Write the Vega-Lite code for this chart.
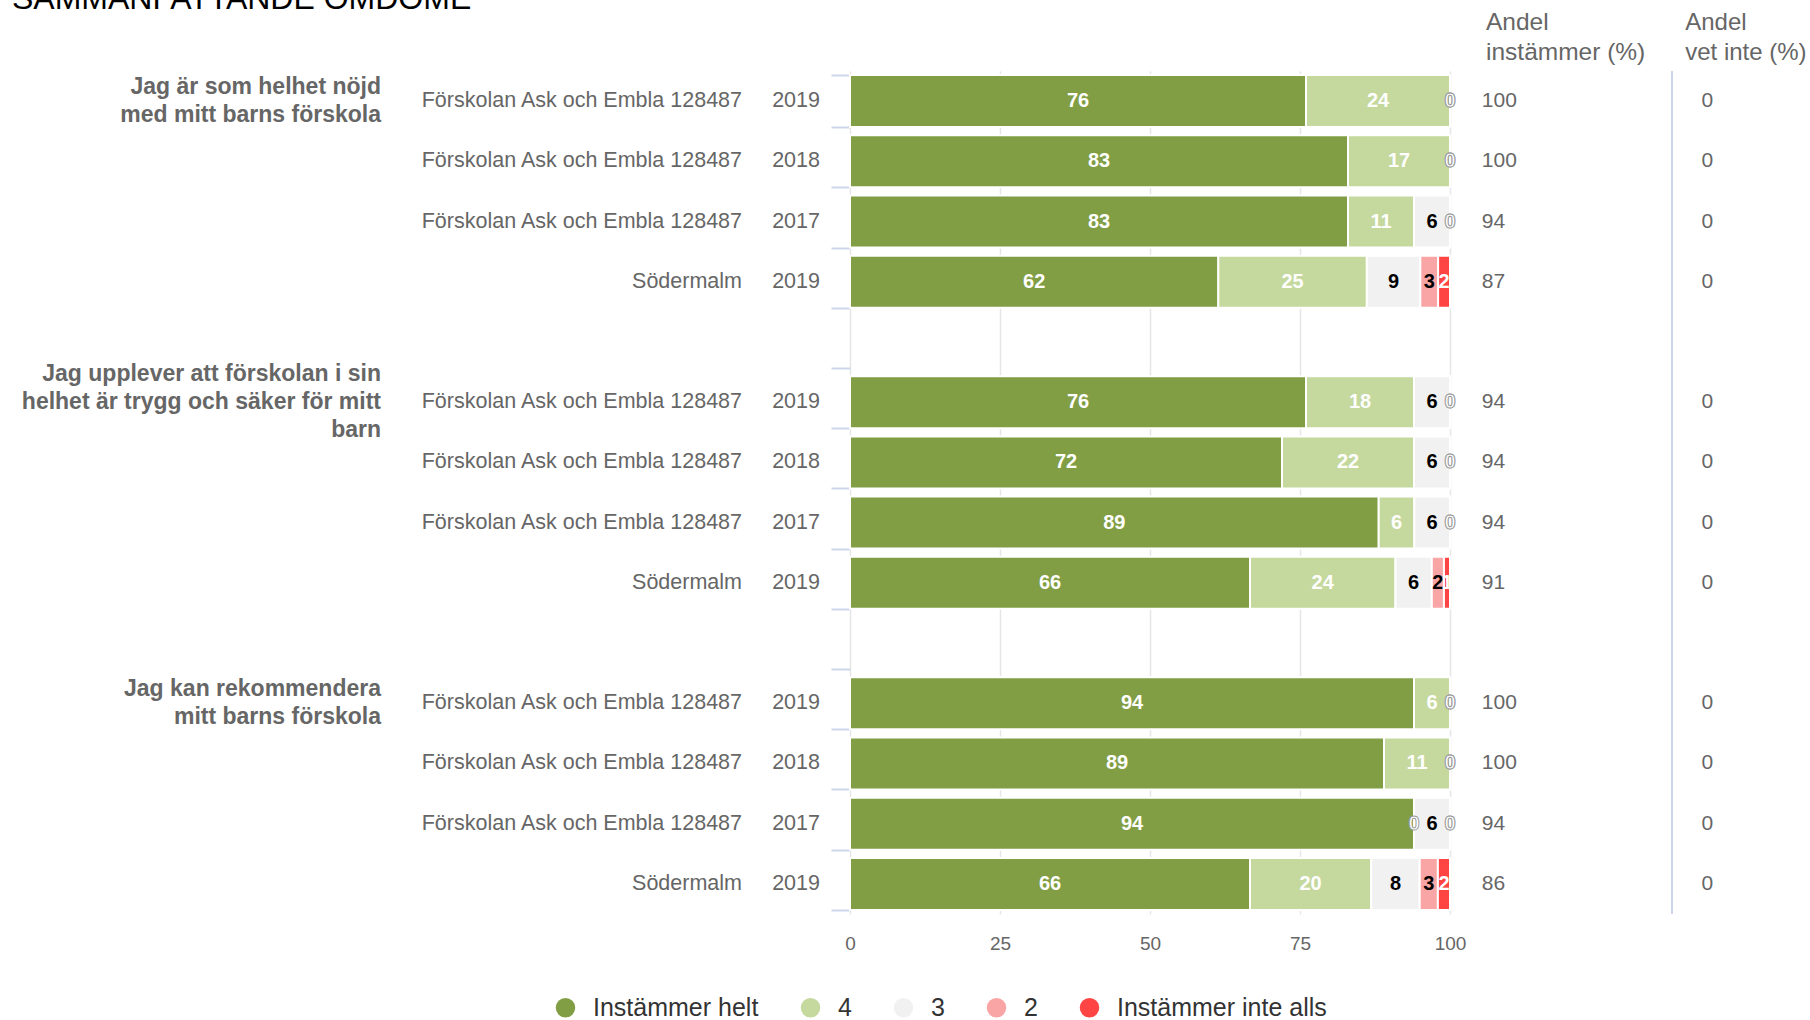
{
 "$schema": "https://vega.github.io/schema/vega-lite/v6.json",
 "width": 600,
 "height": 843,
 "autosize": {"type": "none"},
 "padding": {"left": 850, "top": 71, "right": 360, "bottom": 106},
 "background": "white",
 "config": {"font": "Liberation Sans", "view": {"stroke": null}},
 "datasets": {
  "bars": [
   {"rad": "r1", "kat": "Instämmer helt", "ord": 1, "val": 76}, {"rad": "r1", "kat": "4", "ord": 2, "val": 24}, {"rad": "r1", "kat": "3", "ord": 3, "val": 0}, {"rad": "r1", "kat": "2", "ord": 4, "val": 0}, {"rad": "r1", "kat": "Instämmer inte alls", "ord": 5, "val": 0},
   {"rad": "r2", "kat": "Instämmer helt", "ord": 1, "val": 83}, {"rad": "r2", "kat": "4", "ord": 2, "val": 17}, {"rad": "r2", "kat": "3", "ord": 3, "val": 0}, {"rad": "r2", "kat": "2", "ord": 4, "val": 0}, {"rad": "r2", "kat": "Instämmer inte alls", "ord": 5, "val": 0},
   {"rad": "r3", "kat": "Instämmer helt", "ord": 1, "val": 83}, {"rad": "r3", "kat": "4", "ord": 2, "val": 11}, {"rad": "r3", "kat": "3", "ord": 3, "val": 6}, {"rad": "r3", "kat": "2", "ord": 4, "val": 0}, {"rad": "r3", "kat": "Instämmer inte alls", "ord": 5, "val": 0},
   {"rad": "r4", "kat": "Instämmer helt", "ord": 1, "val": 62}, {"rad": "r4", "kat": "4", "ord": 2, "val": 25}, {"rad": "r4", "kat": "3", "ord": 3, "val": 9}, {"rad": "r4", "kat": "2", "ord": 4, "val": 3}, {"rad": "r4", "kat": "Instämmer inte alls", "ord": 5, "val": 2},
   {"rad": "r5", "kat": "Instämmer helt", "ord": 1, "val": 76}, {"rad": "r5", "kat": "4", "ord": 2, "val": 18}, {"rad": "r5", "kat": "3", "ord": 3, "val": 6}, {"rad": "r5", "kat": "2", "ord": 4, "val": 0}, {"rad": "r5", "kat": "Instämmer inte alls", "ord": 5, "val": 0},
   {"rad": "r6", "kat": "Instämmer helt", "ord": 1, "val": 72}, {"rad": "r6", "kat": "4", "ord": 2, "val": 22}, {"rad": "r6", "kat": "3", "ord": 3, "val": 6}, {"rad": "r6", "kat": "2", "ord": 4, "val": 0}, {"rad": "r6", "kat": "Instämmer inte alls", "ord": 5, "val": 0},
   {"rad": "r7", "kat": "Instämmer helt", "ord": 1, "val": 89}, {"rad": "r7", "kat": "4", "ord": 2, "val": 6}, {"rad": "r7", "kat": "3", "ord": 3, "val": 6}, {"rad": "r7", "kat": "2", "ord": 4, "val": 0}, {"rad": "r7", "kat": "Instämmer inte alls", "ord": 5, "val": 0},
   {"rad": "r8", "kat": "Instämmer helt", "ord": 1, "val": 66}, {"rad": "r8", "kat": "4", "ord": 2, "val": 24}, {"rad": "r8", "kat": "3", "ord": 3, "val": 6}, {"rad": "r8", "kat": "2", "ord": 4, "val": 2}, {"rad": "r8", "kat": "Instämmer inte alls", "ord": 5, "val": 1},
   {"rad": "r9", "kat": "Instämmer helt", "ord": 1, "val": 94}, {"rad": "r9", "kat": "4", "ord": 2, "val": 6}, {"rad": "r9", "kat": "3", "ord": 3, "val": 0}, {"rad": "r9", "kat": "2", "ord": 4, "val": 0}, {"rad": "r9", "kat": "Instämmer inte alls", "ord": 5, "val": 0},
   {"rad": "r10", "kat": "Instämmer helt", "ord": 1, "val": 89}, {"rad": "r10", "kat": "4", "ord": 2, "val": 11}, {"rad": "r10", "kat": "3", "ord": 3, "val": 0}, {"rad": "r10", "kat": "2", "ord": 4, "val": 0}, {"rad": "r10", "kat": "Instämmer inte alls", "ord": 5, "val": 0},
   {"rad": "r11", "kat": "Instämmer helt", "ord": 1, "val": 94}, {"rad": "r11", "kat": "4", "ord": 2, "val": 0}, {"rad": "r11", "kat": "3", "ord": 3, "val": 6}, {"rad": "r11", "kat": "2", "ord": 4, "val": 0}, {"rad": "r11", "kat": "Instämmer inte alls", "ord": 5, "val": 0},
   {"rad": "r12", "kat": "Instämmer helt", "ord": 1, "val": 66}, {"rad": "r12", "kat": "4", "ord": 2, "val": 20}, {"rad": "r12", "kat": "3", "ord": 3, "val": 8}, {"rad": "r12", "kat": "2", "ord": 4, "val": 3}, {"rad": "r12", "kat": "Instämmer inte alls", "ord": 5, "val": 2}
  ],
  "rows": [
   {"rad": "r1", "skola": "Förskolan Ask och Embla 128487", "ar": "2019", "instammer": 100, "vetinte": 0},
   {"rad": "r2", "skola": "Förskolan Ask och Embla 128487", "ar": "2018", "instammer": 100, "vetinte": 0},
   {"rad": "r3", "skola": "Förskolan Ask och Embla 128487", "ar": "2017", "instammer": 94, "vetinte": 0},
   {"rad": "r4", "skola": "Södermalm", "ar": "2019", "instammer": 87, "vetinte": 0},
   {"rad": "r5", "skola": "Förskolan Ask och Embla 128487", "ar": "2019", "instammer": 94, "vetinte": 0},
   {"rad": "r6", "skola": "Förskolan Ask och Embla 128487", "ar": "2018", "instammer": 94, "vetinte": 0},
   {"rad": "r7", "skola": "Förskolan Ask och Embla 128487", "ar": "2017", "instammer": 94, "vetinte": 0},
   {"rad": "r8", "skola": "Södermalm", "ar": "2019", "instammer": 91, "vetinte": 0},
   {"rad": "r9", "skola": "Förskolan Ask och Embla 128487", "ar": "2019", "instammer": 100, "vetinte": 0},
   {"rad": "r10", "skola": "Förskolan Ask och Embla 128487", "ar": "2018", "instammer": 100, "vetinte": 0},
   {"rad": "r11", "skola": "Förskolan Ask och Embla 128487", "ar": "2017", "instammer": 94, "vetinte": 0},
   {"rad": "r12", "skola": "Södermalm", "ar": "2019", "instammer": 86, "vetinte": 0}
  ],
  "questions": [
   {"rad": "r1", "nrad": 2, "lines": ["Jag är som helhet nöjd", "med mitt barns förskola"]},
   {"rad": "r5", "nrad": 3, "lines": ["Jag upplever att förskolan i sin", "helhet är trygg och säker för mitt", "barn"]},
   {"rad": "r9", "nrad": 2, "lines": ["Jag kan rekommendera", "mitt barns förskola"]}
  ],
  "headers": [
   {"rad": "r1", "kol": 1, "lines": ["Andel", "instämmer (%)"]},
   {"rad": "r1", "kol": 2, "lines": ["Andel", "vet inte (%)"]}
  ],
  "titel": [
   {"rad": "r1", "text": "SAMMANFATTANDE OMDÖME"}
  ]
 },
 "layer": [
  {
   "data": {"name": "bars"},
   "mark": {"type": "bar", "stroke": "white", "strokeWidth": 2},
   "encoding": {
    "y": {"field": "rad", "type": "nominal", "title": null,
          "scale": {"domain": ["r1", "r2", "r3", "r4", "g1", "r5", "r6", "r7", "r8", "g2", "r9", "r10", "r11", "r12"], "paddingInner": 0.136, "paddingOuter": 0.068},
          "axis": {"labels": false, "domain": false, "ticks": true, "tickBand": "extent", "tickColor": "#ccd6eb", "tickSize": 19, "tickWidth": 2, "grid": false, "title": null}},
    "x": {"field": "val", "type": "quantitative", "stack": "normalize", "title": null,
          "scale": {"domain": [0, 1], "nice": false},
          "axis": {"title": null, "grid": true, "gridColor": "#e6e6e6", "gridWidth": 1.5, "domain": false, "ticks": false, "values": [0, 0.25, 0.5, 0.75, 1], "labelExpr": "format(datum.value * 100, 'd')", "labelFontSize": 19, "labelColor": "#666666", "labelPadding": 20, "labelFlush": false, "labelFont": "Liberation Sans"}},
    "color": {"field": "kat", "type": "nominal",
              "scale": {"domain": ["Instämmer helt", "4", "3", "2", "Instämmer inte alls"], "range": ["#819e44", "#c5d89d", "#f1f1f1", "#faa5a5", "#ff4444"]},
              "legend": {"title": null, "orient": "none", "legendX": -297, "legendY": 924, "direction": "horizontal", "symbolType": "circle", "symbolSize": 380, "symbolStrokeWidth": 0, "labelFontSize": 25, "labelLimit": 500, "labelColor": "#333333", "labelFont": "Liberation Sans", "labelOffset": 15, "columnPadding": 39, "padding": 0}},
    "order": {"field": "ord", "type": "quantitative"}
   }
  },
  {
   "data": {"name": "bars"},
   "mark": {"type": "text", "fontSize": 20, "fontWeight": "bold", "baseline": "middle", "align": "center", "stroke": "#999999"},
   "encoding": {
    "y": {"field": "rad", "type": "nominal"},
    "x": {"field": "val", "type": "quantitative", "stack": "normalize", "bandPosition": 0.5},
    "detail": {"field": "kat"},
    "order": {"field": "ord", "type": "quantitative"},
    "text": {"field": "val", "type": "quantitative"},
    "color": {"condition": [{"test": "datum.val === 0", "value": "#ffffff"}, {"test": "datum.kat === '3' || datum.kat === '2'", "value": "#000000"}], "value": "#ffffff"},
    "strokeWidth": {"condition": {"test": "datum.val === 0", "value": 0.9}, "value": 0}
   }
  },
  {
   "data": {"name": "rows"},
   "mark": {"type": "text", "align": "right", "baseline": "middle", "fontSize": 21.5, "color": "#666666"},
   "encoding": {
    "y": {"field": "rad", "type": "nominal"},
    "x": {"datum": -0.18},
    "text": {"field": "skola"}
   }
  },
  {
   "data": {"name": "rows"},
   "mark": {"type": "text", "align": "right", "baseline": "middle", "fontSize": 21.5, "color": "#666666"},
   "encoding": {
    "y": {"field": "rad", "type": "nominal"},
    "x": {"datum": -0.05},
    "text": {"field": "ar"}
   }
  },
  {
   "data": {"name": "rows"},
   "mark": {"type": "text", "align": "left", "baseline": "middle", "fontSize": 21, "color": "#666666"},
   "encoding": {
    "y": {"field": "rad", "type": "nominal"},
    "x": {"datum": 1.053},
    "text": {"field": "instammer", "type": "quantitative"}
   }
  },
  {
   "data": {"name": "rows"},
   "mark": {"type": "text", "align": "left", "baseline": "middle", "fontSize": 21, "color": "#666666"},
   "encoding": {
    "y": {"field": "rad", "type": "nominal"},
    "x": {"datum": 1.419},
    "text": {"field": "vetinte", "type": "quantitative"}
   }
  },
  {
   "data": {"name": "questions"},
   "transform": [{"filter": "datum.nrad === 2"}],
   "mark": {"type": "text", "align": "right", "baseline": "middle", "fontSize": 23, "fontWeight": "bold", "lineHeight": 28, "dy": -14, "color": "#666666"},
   "encoding": {
    "y": {"field": "rad", "type": "nominal"},
    "x": {"datum": -0.7817},
    "text": {"field": "lines"}
   }
  },
  {
   "data": {"name": "questions"},
   "transform": [{"filter": "datum.nrad === 3"}],
   "mark": {"type": "text", "align": "right", "baseline": "middle", "fontSize": 23, "fontWeight": "bold", "lineHeight": 28, "dy": -28, "color": "#666666"},
   "encoding": {
    "y": {"field": "rad", "type": "nominal"},
    "x": {"datum": -0.7817},
    "text": {"field": "lines"}
   }
  },
  {
   "data": {"name": "headers"},
   "transform": [{"filter": "datum.kol === 1"}],
   "mark": {"type": "text", "align": "left", "baseline": "middle", "fontSize": 24.5, "lineHeight": 30, "dy": -78, "color": "#666666"},
   "encoding": {
    "y": {"field": "rad", "type": "nominal"},
    "x": {"datum": 1.06},
    "text": {"field": "lines"}
   }
  },
  {
   "data": {"name": "headers"},
   "transform": [{"filter": "datum.kol === 2"}],
   "mark": {"type": "text", "align": "left", "baseline": "middle", "fontSize": 24, "lineHeight": 30, "dy": -78, "color": "#666666"},
   "encoding": {
    "y": {"field": "rad", "type": "nominal"},
    "x": {"datum": 1.392},
    "text": {"field": "lines"}
   }
  },
  {
   "data": {"name": "titel"},
   "mark": {"type": "text", "align": "left", "baseline": "alphabetic", "fontSize": 32, "dy": -92, "color": "#000000"},
   "encoding": {
    "y": {"field": "rad", "type": "nominal"},
    "x": {"datum": -1.3967},
    "text": {"field": "text"}
   }
  },
  {
   "data": {"name": "headers"},
   "transform": [{"filter": "datum.kol === 1"}],
   "mark": {"type": "rule", "color": "#ccd6eb", "strokeWidth": 2},
   "encoding": {
    "x": {"datum": 1.37}
   }
  }
 ]
}
